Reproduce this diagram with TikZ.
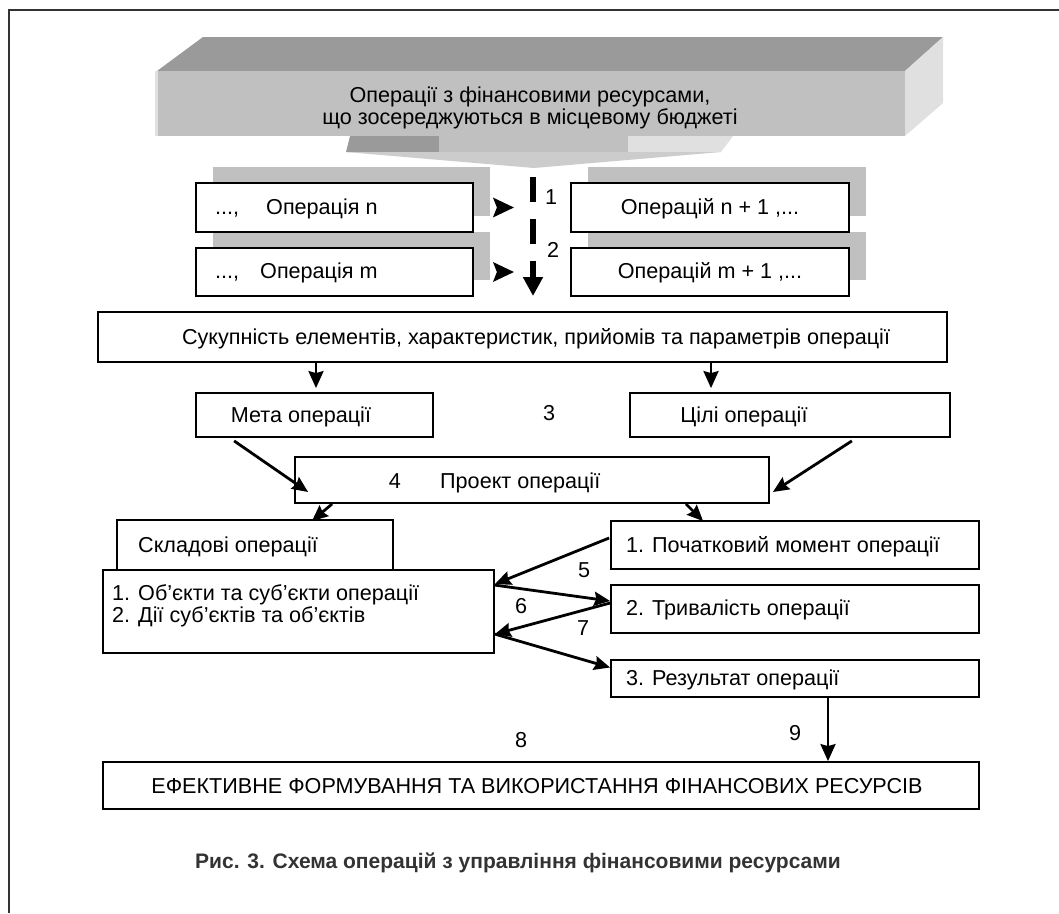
\documentclass[tikz,border=0pt]{standalone}
\usepackage{fontspec}
\setmainfont{Liberation Sans}
\usetikzlibrary{arrows.meta,calc}
\definecolor{framegray}{HTML}{333333}
\definecolor{topgray}{HTML}{9A9A9A}
\definecolor{frontgray}{HTML}{C0C0C0}
\definecolor{sidegray}{HTML}{E0E0E0}
\definecolor{tipgray}{HTML}{CCCCCC}
\definecolor{shadowgray}{HTML}{C0C0C0}
\begin{document}
\begin{tikzpicture}[x=1pt,y=-1pt,
  box/.style={draw=black, line width=1.8pt, fill=white, inner sep=0pt},
  txt/.style={inner sep=0pt, anchor=base, font=\fontsize{21.6}{20}\selectfont},
  txtw/.style={inner sep=0pt, anchor=base west, font=\fontsize{21.6}{19}\selectfont},
  num/.style={inner sep=0pt, anchor=base, font=\fontsize{21.6}{20}\selectfont},
  arr/.style={line width=2.8pt, -{Stealth[length=16pt,width=14pt,inset=2pt]}},
  varr/.style={line width=2.6pt, -{Stealth[length=17pt,width=15pt,inset=2pt]}},
  tiparr/.style={fill=black}]
\useasboundingbox (0,0) rectangle (1059,913);
\fill[white] (0,0) rectangle (1059,913);
% outer frame
\draw[framegray, line width=2pt] (9,913) -- (9,10) -- (1059,10);

% 3D banner
\fill[topgray] (203,37) -- (943,37) -- (905,71) -- (157,71) -- cycle;
\fill[sidegray] (905,71) -- (943,37) -- (943,103) -- (905,136) -- cycle;
\fill[frontgray] (157,71) rectangle (905,136);
\fill[sidegray] (155,71) rectangle (158,136);
% banner pointer
\fill[topgray] (350,136) -- (439,136) -- (439,152) -- (346,152) -- cycle;
\fill[frontgray] (439,136) rectangle (628,152);
\fill[sidegray] (628,136) -- (733,136) -- (721,152) -- (628,152) -- cycle;
\fill[tipgray] (346,152) -- (721,152) -- (534,168) -- cycle;
\node[txt, align=center] (banner) at (530,124)
  {Операції з фінансовими ресурсами,\\що зосереджуються в місцевому бюджеті};

% shadows of the operation boxes
\fill[shadowgray] (213,167) rectangle (490,216);
\fill[shadowgray] (588,167) rectangle (866,216);
\fill[shadowgray] (213,232) rectangle (490,280);
\fill[shadowgray] (588,232) rectangle (866,280);

% operation boxes
\node[box, minimum width=277pt, minimum height=49pt] (opn) at (334.5,207.5) {};
\node[box, minimum width=277pt, minimum height=48pt] (opm) at (334.5,272) {};
\node[box, minimum width=278pt, minimum height=49pt] (opn1) at (710,207.5) {};
\node[box, minimum width=278pt, minimum height=48pt] (opm1) at (710,272) {};
\node[txtw] (tn0) at (215,214) {...,};
\node[txtw] (tn) at (266,214) {Операція n};
\node[txtw] (tm0) at (215,278) {...,};
\node[txtw] (tm) at (260,278) {Операція m};
\node[txt] (tn1) at (710,214) {Операцій n + 1 ,...};
\node[txt] (tm1) at (710,278) {Операцій m + 1 ,...};

% small arrow tips
\fill[tiparr] ($(opn.east)+(19,-10)$) -- ($(opn.east)+(40,0)$) -- ($(opn.east)+(19,10)$) -- ($(opn.east)+(23,0)$) -- cycle;
\fill[tiparr] ($(opm.east)+(19,-10)$) -- ($(opm.east)+(40,0)$) -- ($(opm.east)+(19,10)$) -- ($(opm.east)+(23,0)$) -- cycle;

% dashed arrow
\coordinate (dtop) at (533,177);
\coordinate (dbot) at (533,296);
\draw[line width=6pt, dash pattern=on 25pt off 17pt, -{Triangle[length=19pt,width=19pt]}] (dtop) -- (dbot);
\node[num] (l1) at (551,204) {1};
\node[num] (l2) at (553,257) {2};

% set of elements
\node[box, minimum width=849pt, minimum height=50pt] (set) at (522.5,337) {};
\node[txt] (tset) at (536,344) {Сукупність елементів, характеристик, прийомів та параметрів операції};

\node[box, minimum width=237pt, minimum height=44pt] (meta) at (314.5,415) {};
\node[txt] (tmeta) at (301,422) {Мета операції};
\node[box, minimum width=320pt, minimum height=44pt] (goals) at (790,415) {};
\node[txt] (tgoals) at (744,422) {Цілі операції};
\node[num] (l3) at (549,420) {3};

\draw[varr] (set.south -| 316,0) -- ($(meta.north -| 316,0)+(0,-4)$);
\draw[varr] (set.south -| 711,0) -- ($(goals.north -| 711,0)+(0,-4)$);

\node[box, minimum width=474pt, minimum height=46pt] (proj) at (532,480) {};
\node[num] (l4) at (395,488) {4};
\node[txtw] (tproj) at (440,488) {Проект операції};

\draw[arr] ($(meta.south west)+(39,3)$) -- ($(proj.west)+(14,12)$);
\draw[arr] ($(goals.south east)+(-99,3)$) -- ($(proj.east)+(3,12)$);

% components
\node[box, minimum width=276pt, minimum height=50pt] (comp) at (255,545) {};
\node[txtw] (tcomp) at (138,552) {Складові операції};
\node[box, minimum width=391pt, minimum height=83pt] (obj) at (298.5,611.5) {};
\node[txtw, align=left] (tobj) at (112,622) {1. Об’єкти та суб’єкти операції\\2. Дії суб’єктів та об’єктів};

\node[box, minimum width=368pt, minimum height=48pt] (start) at (795,545) {};
\node[txtw] (tstart) at (626,552) {1. Початковий момент операції};
\node[box, minimum width=368pt, minimum height=48pt] (dur) at (795,609) {};
\node[txtw] (tdur) at (626,615) {2. Тривалість операції};
\node[box, minimum width=368pt, minimum height=37pt] (res) at (795,678.5) {};
\node[txtw] (tres) at (626,685) {3. Результат операції};

\draw[arr] ($(proj.south west)+(38,0)$) -- ($(comp.north east)+(-82,2)$);
\draw[arr] ($(proj.south east)+(-84,0)$) -- ($(start.north west)+(93,1)$);

\draw[arr] ($(start.west)+(-1,-7)$) -- ($(obj.north east)+(0,15)$);
\draw[arr] ($(obj.north east)+(0,16)$) -- ($(dur.west)+(0,-8)$);
\draw[arr] ($(dur.west)+(0,-6)$) -- ($(obj.north east)+(0,65)$);
\draw[arr] ($(obj.north east)+(0,65)$) -- ($(res.west)+(0,-11)$);
\node[num] (l5) at (584,577) {5};
\node[num] (l6) at (521,613) {6};
\node[num] (l7) at (583,635) {7};

% final result
\node[box, minimum width=876pt, minimum height=47pt] (final) at (541,785.5) {};
\node[txt] (tfinal) at (537,793) {ЕФЕКТИВНЕ ФОРМУВАННЯ ТА ВИКОРИСТАННЯ ФІНАНСОВИХ РЕСУРСІВ};
\draw[varr] (res.south -| 828,0) -- (final.north -| 828,0);
\node[num] (l9) at (795,740) {9};
\node[num] (l8) at (521,747) {8};

% caption
\node[txt, font=\fontsize{21}{20}\selectfont\bfseries, text=framegray] (cap) at (518,868) {Рис. 3. Схема операцій з управління фінансовими ресурсами};
\end{tikzpicture}
\end{document}
